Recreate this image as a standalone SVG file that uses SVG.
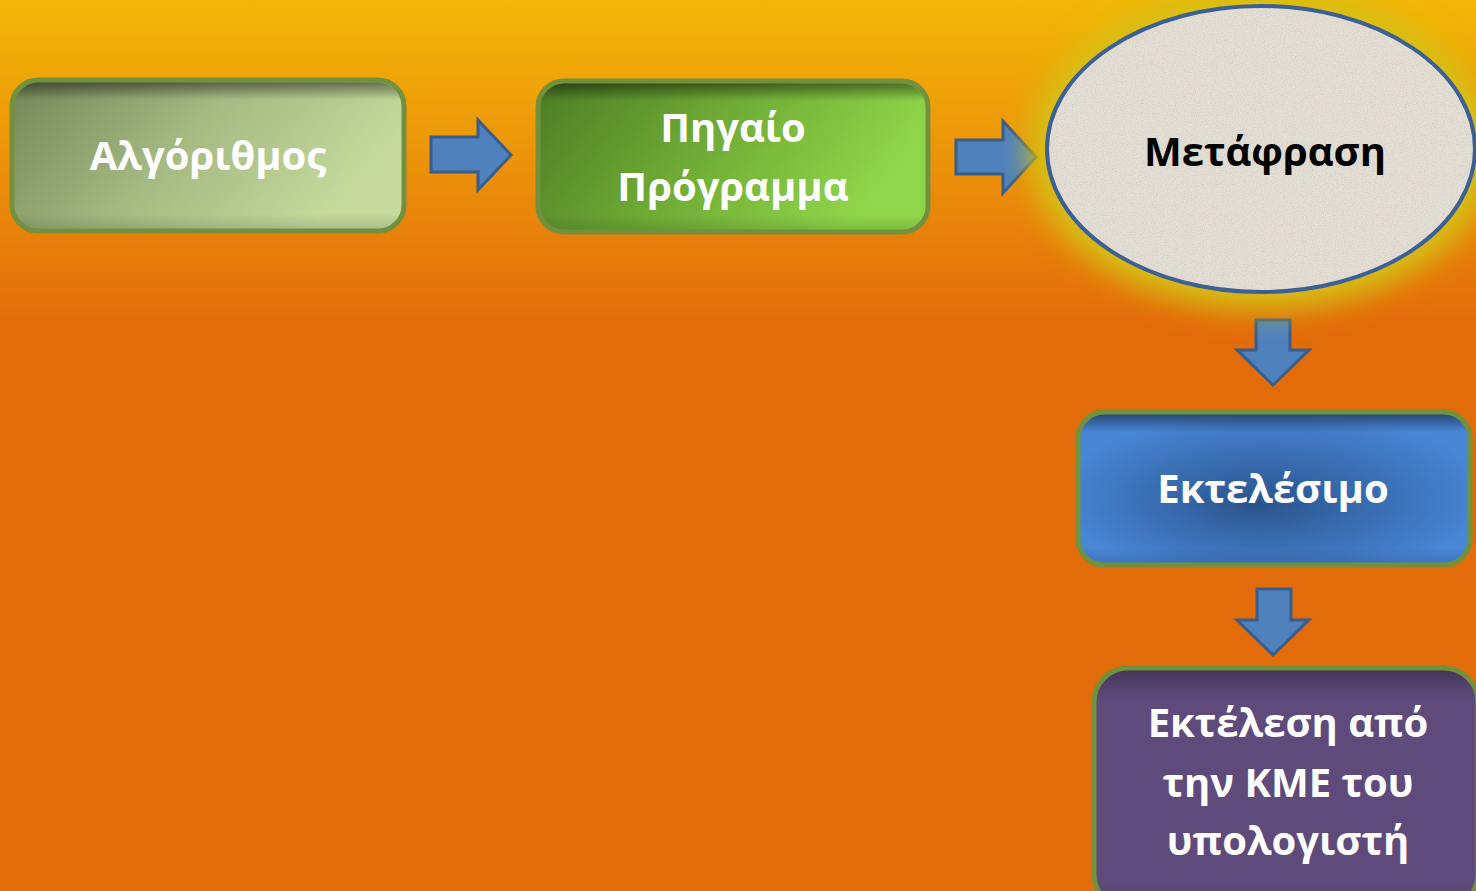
<svg xmlns="http://www.w3.org/2000/svg" width="1476" height="891" viewBox="0 0 1476 891">
  <defs>
    <linearGradient id="bg" x1="0" y1="0" x2="0" y2="891" gradientUnits="userSpaceOnUse">
      <stop offset="0" stop-color="#F2B606"/>
      <stop offset="0.17" stop-color="#EC950A"/>
      <stop offset="0.36" stop-color="#E36C0A"/>
      <stop offset="1" stop-color="#E36C0A"/>
    </linearGradient>
    <linearGradient id="g1" x1="0" y1="0" x2="1" y2="0.35">
      <stop offset="0" stop-color="#738657"/>
      <stop offset="0.5" stop-color="#A4B881"/>
      <stop offset="1" stop-color="#C5DA9C"/>
    </linearGradient>
    <linearGradient id="g2" x1="0" y1="0" x2="1" y2="0.3">
      <stop offset="0" stop-color="#4D7C24"/>
      <stop offset="0.5" stop-color="#6FAB35"/>
      <stop offset="1" stop-color="#90D64A"/>
    </linearGradient>
    <radialGradient id="g3" cx="0.5" cy="0.55" r="0.55" fx="0.45" fy="0.6">
      <stop offset="0" stop-color="#2A538C"/>
      <stop offset="1" stop-color="#4886D6"/>
    </radialGradient>
    <linearGradient id="inner" x1="0" y1="0" x2="0" y2="1">
      <stop offset="0" stop-color="#000" stop-opacity="0.45"/>
      <stop offset="0.12" stop-color="#000" stop-opacity="0"/>
      <stop offset="0.9" stop-color="#000" stop-opacity="0"/>
      <stop offset="1" stop-color="#000" stop-opacity="0.12"/>
    </linearGradient>
    <filter id="glow" x="-30%" y="-30%" width="160%" height="160%">
      <feGaussianBlur stdDeviation="14"/>
    </filter>
    <filter id="paper" x="0" y="0" width="100%" height="100%">
      <feTurbulence type="fractalNoise" baseFrequency="0.9" numOctaves="2" seed="3" result="n"/>
      <feColorMatrix in="n" type="matrix" values="0 0 0 0 0.55  0 0 0 0 0.52  0 0 0 0 0.48  0 0 0 -2.2 1.25" result="c"/>
      <feComposite in="c" in2="SourceGraphic" operator="in"/>
    </filter>
    <style>
      .box { stroke: #73903D; stroke-width: 5; }
      .arrow { fill: #4F81BD; stroke: #385D8A; stroke-width: 3; stroke-linejoin: miter; }
      .lbl { font-family: "Open Sans", "Liberation Sans", sans-serif; font-weight: 700; font-size: 40px; fill: #FFFFFF; text-anchor: middle; }
      .dark { fill: #000000; }
    </style>
  </defs>

  <rect x="0" y="0" width="1476" height="891" fill="url(#bg)"/>

  <g id="connectors">
    <polygon class="arrow" points="431,137 478,137 478,120 511,155 478,190 478,172 431,172"/>
    <polygon class="arrow" points="956,140 1003,140 1003,121 1036,157 1003,193 1003,174 956,174"/>
    <polygon class="arrow" points="1256,320 1290,320 1290,350 1309,350 1273,385 1237,350 1256,350"/>
    <polygon class="arrow" points="1257,589 1291,589 1291,620 1309,620 1273,655 1237,620 1257,620"/>
  </g>

  <g id="node-algorithmos">
    <rect class="box" x="12" y="80" width="392" height="151" rx="26" fill="url(#g1)"/>
    <rect x="14.5" y="82.5" width="387" height="146" rx="24" fill="url(#inner)"/>
    <text class="lbl" x="208" y="170">Αλγόριθμος</text>
  </g>

  <g id="node-pigaio">
    <rect class="box" x="538" y="81" width="390" height="151" rx="26" fill="url(#g2)"/>
    <rect x="540.5" y="83.5" width="385" height="146" rx="24" fill="url(#inner)"/>
    <text class="lbl" x="733" y="142">Πηγαίο</text>
    <text class="lbl" x="733" y="201">Πρόγραμμα</text>
  </g>

  <g id="node-metafrasi">
    <ellipse cx="1261" cy="150" rx="232" ry="160" fill="#D4C014" filter="url(#glow)"/>
    <ellipse cx="1261" cy="149" rx="214" ry="143" fill="#E4DED4"/>
    <ellipse cx="1261" cy="149" rx="214" ry="143" fill="#E4DED4" filter="url(#paper)" opacity="0.6"/>
    <ellipse cx="1261" cy="149" rx="214" ry="143" fill="none" stroke="#3C6094" stroke-width="4"/>
    <text class="lbl dark" x="1265" y="166">Μετάφραση</text>
  </g>

  <g id="node-ektelesimo">
    <rect class="box" x="1078" y="412" width="392" height="153" rx="26" fill="url(#g3)"/>
    <rect x="1080.5" y="414.5" width="387" height="148" rx="24" fill="url(#inner)"/>
    <text class="lbl" x="1273" y="503">Εκτελέσιμο</text>
  </g>

  <g id="node-ektelesi">
    <rect class="box" x="1094" y="668" width="384" height="240" rx="34" fill="#5E4A7B"/>
    <rect x="1096.5" y="670.5" width="379" height="235" rx="32" fill="url(#inner)" opacity="0.6"/>
    <text class="lbl" x="1288" y="737">Εκτέλεση από</text>
    <text class="lbl" x="1288" y="797">την ΚΜΕ του</text>
    <text class="lbl" x="1288" y="855">υπολογιστή</text>
  </g>
</svg>
